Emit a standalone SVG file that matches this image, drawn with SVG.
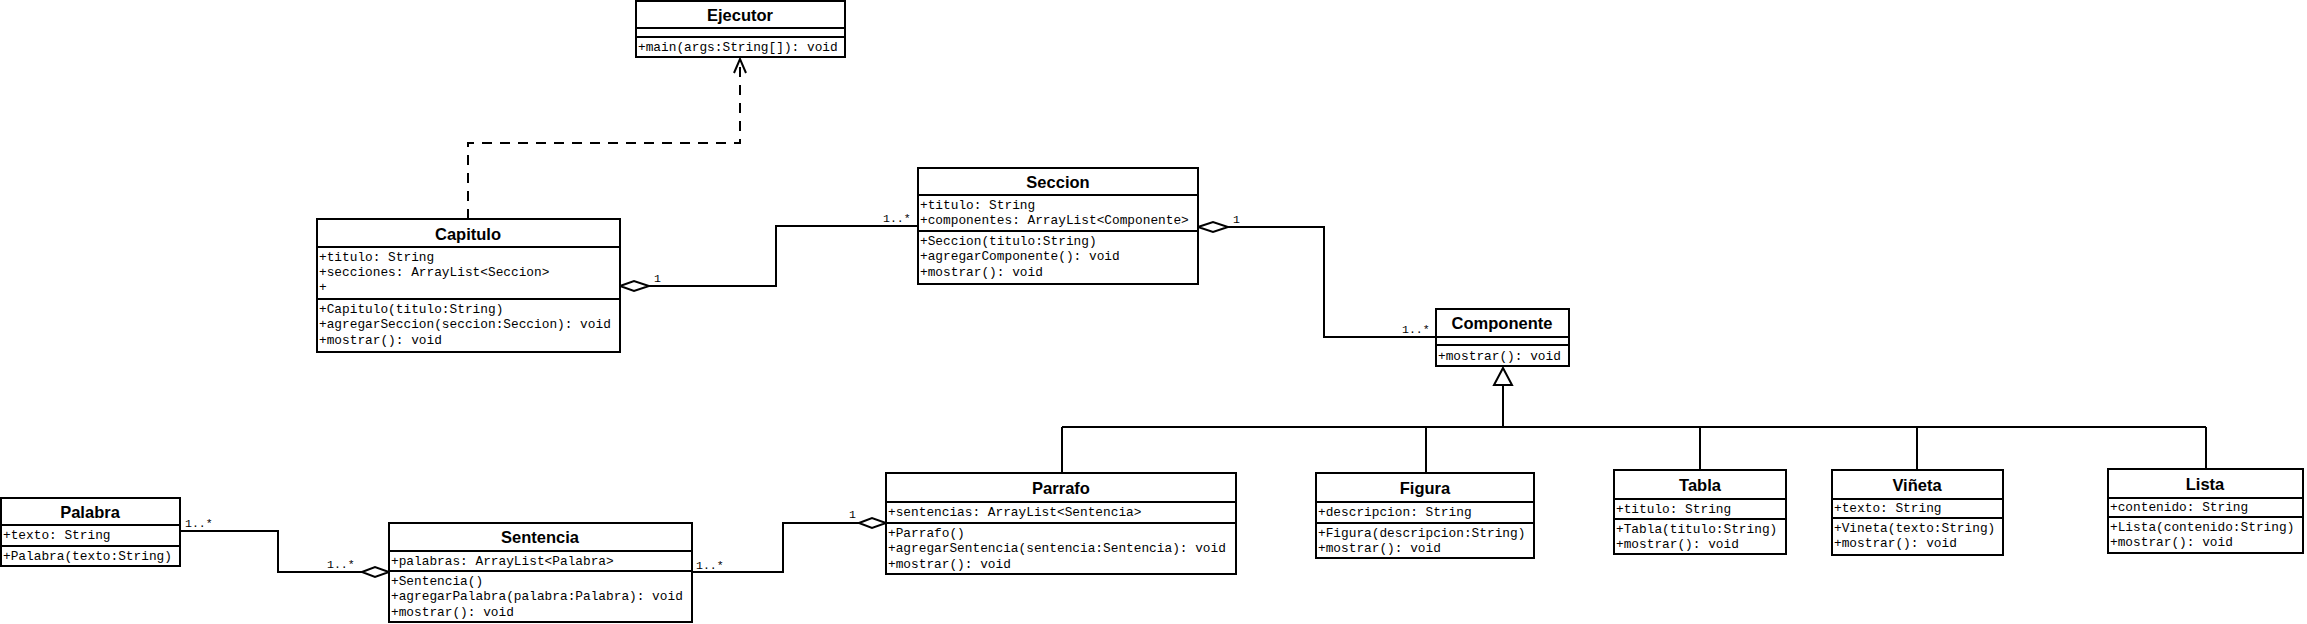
<svg xmlns="http://www.w3.org/2000/svg" width="2307" height="624" viewBox="0 0 2307 624">
<style>
.box{fill:#fff;stroke:#000;stroke-width:2}
.div{stroke:#000;stroke-width:2}
.t{font-family:"Liberation Sans",Arial,sans-serif;font-weight:bold;font-size:16.5px;text-anchor:middle;fill:#000}
.m{font-family:"Liberation Mono","Courier New",monospace;font-size:12.8px;fill:#000}
.mult{font-family:"Liberation Mono","Courier New",monospace;font-size:11.5px;fill:#000}
.ln{fill:none;stroke:#000;stroke-width:2}
.dash{fill:none;stroke:#000;stroke-width:2;stroke-dasharray:10 8}
.dia{fill:#fff;stroke:#000;stroke-width:2}
</style>
<rect width="2307" height="624" fill="#fff"/>
<g id="connectors">
  <path class="dash" d="M468,219 V143 H740 V60"/>
  <path class="ln" d="M734,73 L740,59 L746,73"/>
  <path class="ln" d="M649,286 H776 V226 H918"/>
  <polygon class="dia" points="620,286 634,281 649,286 634,291"/>
  <text class="mult" x="654" y="282">1</text>
  <text class="mult" x="883" y="222">1..*</text>
  <path class="ln" d="M1228,227 H1324 V337 H1436"/>
  <polygon class="dia" points="1198,227 1213,222 1228,227 1213,232"/>
  <text class="mult" x="1233" y="223">1</text>
  <text class="mult" x="1402" y="333">1..*</text>
  <path class="ln" d="M1503,385 V427 M1062,427 H2206 M1062,427 V473 M1426,427 V473 M1700,427 V470 M1917,427 V470 M2206,427 V469"/>
  <polygon class="dia" points="1503,368 1512,385 1494,385"/>
  <path class="ln" d="M180,531 H278 V572 H362"/>
  <polygon class="dia" points="362,572 375,567 389,572 375,577"/>
  <text class="mult" x="185" y="527">1..*</text>
  <text class="mult" x="327" y="568">1..*</text>
  <path class="ln" d="M692,572 H783 V523 H859"/>
  <polygon class="dia" points="859,523 872,518 886,523 872,528"/>
  <text class="mult" x="696" y="569">1..*</text>
  <text class="mult" x="849" y="518">1</text>
</g>
<g id="Ejecutor">
  <rect class="box" x="636" y="1" width="209" height="56"/>
  <line class="div" x1="636" y1="28" x2="845" y2="28"/>
  <line class="div" x1="636" y1="37" x2="845" y2="37"/>
  <text class="t" x="740" y="21">Ejecutor</text>
  <text class="m" x="638" y="51">+main(args:String[]): void</text>
</g>
<g id="Capitulo">
  <rect class="box" x="317" y="219" width="303" height="133"/>
  <line class="div" x1="317" y1="247" x2="620" y2="247"/>
  <line class="div" x1="317" y1="299" x2="620" y2="299"/>
  <text class="t" x="468" y="240">Capitulo</text>
  <text class="m" x="319" y="261">+titulo: String</text>
  <text class="m" x="319" y="276">+secciones: ArrayList&lt;Seccion&gt;</text>
  <text class="m" x="319" y="291">+</text>
  <text class="m" x="319" y="313">+Capitulo(titulo:String)</text>
  <text class="m" x="319" y="328">+agregarSeccion(seccion:Seccion): void</text>
  <text class="m" x="319" y="344">+mostrar(): void</text>
</g>
<g id="Seccion">
  <rect class="box" x="918" y="168" width="280" height="116"/>
  <line class="div" x1="918" y1="195" x2="1198" y2="195"/>
  <line class="div" x1="918" y1="231" x2="1198" y2="231"/>
  <text class="t" x="1058" y="188">Seccion</text>
  <text class="m" x="920" y="209">+titulo: String</text>
  <text class="m" x="920" y="224">+componentes: ArrayList&lt;Componente&gt;</text>
  <text class="m" x="920" y="245">+Seccion(titulo:String)</text>
  <text class="m" x="920" y="260">+agregarComponente(): void</text>
  <text class="m" x="920" y="276">+mostrar(): void</text>
</g>
<g id="Componente">
  <rect class="box" x="1436" y="309" width="133" height="57"/>
  <line class="div" x1="1436" y1="337" x2="1569" y2="337"/>
  <line class="div" x1="1436" y1="345" x2="1569" y2="345"/>
  <text class="t" x="1502" y="329">Componente</text>
  <text class="m" x="1438" y="360">+mostrar(): void</text>
</g>
<g id="Palabra">
  <rect class="box" x="1" y="498" width="179" height="68"/>
  <line class="div" x1="1" y1="525" x2="180" y2="525"/>
  <line class="div" x1="1" y1="546" x2="180" y2="546"/>
  <text class="t" x="90" y="518">Palabra</text>
  <text class="m" x="3" y="539">+texto: String</text>
  <text class="m" x="3" y="560">+Palabra(texto:String)</text>
</g>
<g id="Sentencia">
  <rect class="box" x="389" y="523" width="303" height="99"/>
  <line class="div" x1="389" y1="551" x2="692" y2="551"/>
  <line class="div" x1="389" y1="571" x2="692" y2="571"/>
  <text class="t" x="540" y="543">Sentencia</text>
  <text class="m" x="391" y="565">+palabras: ArrayList&lt;Palabra&gt;</text>
  <text class="m" x="391" y="585">+Sentencia()</text>
  <text class="m" x="391" y="600">+agregarPalabra(palabra:Palabra): void</text>
  <text class="m" x="391" y="616">+mostrar(): void</text>
</g>
<g id="Parrafo">
  <rect class="box" x="886" y="473" width="350" height="101"/>
  <line class="div" x1="886" y1="502" x2="1236" y2="502"/>
  <line class="div" x1="886" y1="523" x2="1236" y2="523"/>
  <text class="t" x="1061" y="494">Parrafo</text>
  <text class="m" x="888" y="516">+sentencias: ArrayList&lt;Sentencia&gt;</text>
  <text class="m" x="888" y="537">+Parrafo()</text>
  <text class="m" x="888" y="552">+agregarSentencia(sentencia:Sentencia): void</text>
  <text class="m" x="888" y="568">+mostrar(): void</text>
</g>
<g id="Figura">
  <rect class="box" x="1316" y="473" width="218" height="85"/>
  <line class="div" x1="1316" y1="502" x2="1534" y2="502"/>
  <line class="div" x1="1316" y1="523" x2="1534" y2="523"/>
  <text class="t" x="1425" y="494">Figura</text>
  <text class="m" x="1318" y="516">+descripcion: String</text>
  <text class="m" x="1318" y="537">+Figura(descripcion:String)</text>
  <text class="m" x="1318" y="552">+mostrar(): void</text>
</g>
<g id="Tabla">
  <rect class="box" x="1614" y="470" width="172" height="84"/>
  <line class="div" x1="1614" y1="499" x2="1786" y2="499"/>
  <line class="div" x1="1614" y1="519" x2="1786" y2="519"/>
  <text class="t" x="1700" y="491">Tabla</text>
  <text class="m" x="1616" y="513">+titulo: String</text>
  <text class="m" x="1616" y="533">+Tabla(titulo:String)</text>
  <text class="m" x="1616" y="548">+mostrar(): void</text>
</g>
<g id="Vineta">
  <rect class="box" x="1832" y="470" width="171" height="85"/>
  <line class="div" x1="1832" y1="499" x2="2003" y2="499"/>
  <line class="div" x1="1832" y1="518" x2="2003" y2="518"/>
  <text class="t" x="1917" y="491">Viñeta</text>
  <text class="m" x="1834" y="512">+texto: String</text>
  <text class="m" x="1834" y="532">+Vineta(texto:String)</text>
  <text class="m" x="1834" y="547">+mostrar(): void</text>
</g>
<g id="Lista">
  <rect class="box" x="2108" y="469" width="195" height="84"/>
  <line class="div" x1="2108" y1="498" x2="2303" y2="498"/>
  <line class="div" x1="2108" y1="517" x2="2303" y2="517"/>
  <text class="t" x="2205" y="490">Lista</text>
  <text class="m" x="2110" y="511">+contenido: String</text>
  <text class="m" x="2110" y="531">+Lista(contenido:String)</text>
  <text class="m" x="2110" y="546">+mostrar(): void</text>
</g>
</svg>
